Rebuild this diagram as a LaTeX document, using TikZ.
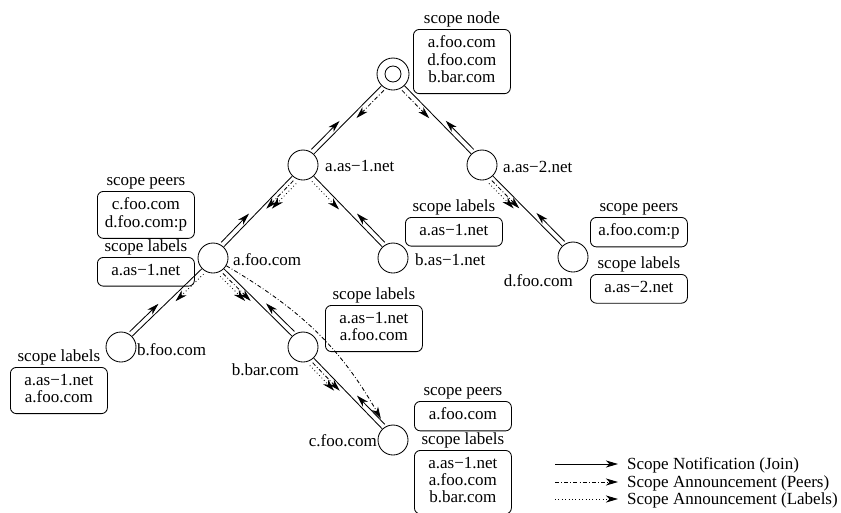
\documentclass[tikz,border=0pt]{standalone}
\usepackage{fontspec}
\setmainfont{Liberation Serif}
\usetikzlibrary{arrows.meta,calc}
\tikzset{
  every node/.style={font=\fontsize{17}{15}\selectfont},
  host/.style={circle, draw, line width=0.85pt, minimum size=30pt, inner sep=0pt},
  sbox/.style={draw, rounded corners=6pt, line width=0.85pt, minimum width=97pt,
    align=center, inner xsep=2pt, inner ysep=6.5pt, anchor=north west},
  boxtitle/.style={anchor=base, inner sep=0pt},
  hostname/.style={inner sep=0pt},
  edgeline/.style={line width=0.85pt},
  arrowtip/.style={-{Stealth[length=12pt,width=7pt,inset=3.5pt]}},
  joinarr/.style={edgeline, arrowtip},
  peerarr/.style={edgeline, arrowtip, dash pattern=on 4pt off 2.2pt on 0.8pt off 2.2pt},
  labelarr/.style={edgeline, arrowtip, dash pattern=on 0.8pt off 2.6pt},
  legendtext/.style={anchor=base west, inner sep=0pt}
}
\newcommand\joinarrow[3]{\draw[joinarr] ($(#1)!17pt!(#2)!5pt!#3:(#2)$) -- ($(#1)!57pt!(#2)!5pt!#3:(#2)$);}
\newcommand\announce[6]{\draw[#4] ($(#1)!18pt!(#2)!#5!#3:(#2)$) -- ($(#1)!#6!(#2)!#5!#3:(#2)$);}
\begin{document}
\begin{tikzpicture}[x=1pt,y=1pt]
\useasboundingbox (0,0) rectangle (841,-512);
% hosts
\node[host, minimum size=32pt] (root) at (393,-74) {};
\draw[edgeline] (root.center) circle[radius=8pt];
\node[host] (aas1) at (303,-165) {};
\node[host] (aas2) at (482,-165) {};
\node[host] (afoo) at (213,-258) {};
\node[host] (bas1) at (393,-258) {};
\node[host] (dfoo) at (573,-257) {};
\node[host] (bfoo) at (121,-347) {};
\node[host] (bbar) at (303,-347) {};
\node[host] (cfoo) at (393,-440) {};
% host names
\node[hostname, anchor=base west] (naas1) at (325,-171) {a.as−1.net};
\node[hostname, anchor=base west] (naas2) at (503,-172) {a.as−2.net};
\node[hostname, anchor=base west] (nafoo) at (233,-265) {a.foo.com};
\node[hostname, anchor=base west] (nbas1) at (415,-265) {b.as−1.net};
\node[hostname, anchor=base east] (ndfoo) at (573,-286) {d.foo.com};
\node[hostname, anchor=base west] (nbfoo) at (137,-355) {b.foo.com};
\node[hostname, anchor=base east] (nbbar) at (299,-375) {b.bar.com};
\node[hostname, anchor=base east] (ncfoo) at (377,-446) {c.foo.com};
% boxes
\node[sbox] (b1) at (413,-29) {\strut a.foo.com\\\strut d.foo.com\\\strut b.bar.com};
\node[boxtitle] (t1) at ([yshift=5.5pt]b1.north) {scope node};
\node[sbox] (b2) at (97,-191) {\strut c.foo.com\\\strut d.foo.com:p};
\node[boxtitle] (t2) at ([yshift=5.5pt]b2.north) {scope peers};
\node[sbox] (b3) at (97,-257) {\strut a.as−1.net};
\node[boxtitle] (t3) at ([yshift=5.5pt]b3.north) {scope labels};
\node[sbox] (b4) at (405,-217) {\strut a.as−1.net};
\node[boxtitle] (t4) at ([yshift=5.5pt]b4.north) {scope labels};
\node[sbox] (b5) at (590,-217) {\strut a.foo.com:p};
\node[boxtitle] (t5) at ([yshift=5.5pt]b5.north) {scope peers};
\node[sbox] (b6) at (590,-274) {\strut a.as−2.net};
\node[boxtitle] (t6) at ([yshift=5.5pt]b6.north) {scope labels};
\node[sbox] (b7) at (325,-305) {\strut a.as−1.net\\\strut a.foo.com};
\node[boxtitle] (t7) at ([yshift=5.5pt]b7.north) {scope labels};
\node[sbox] (b8) at (10,-367) {\strut a.as−1.net\\\strut a.foo.com};
\node[boxtitle] (t8) at ([yshift=5.5pt]b8.north) {scope labels};
\node[sbox] (b9) at (414,-401) {\strut a.foo.com};
\node[boxtitle] (t9) at ([yshift=5.5pt]b9.north) {scope peers};
\node[sbox] (b10) at (414,-450) {\strut a.as−1.net\\\strut a.foo.com\\\strut b.bar.com};
\node[boxtitle] (t10) at ([yshift=5.5pt]b10.north) {scope labels};
% tree edges
\draw[edgeline] (root) -- (aas1);
\draw[edgeline] (root) -- (aas2);
\draw[edgeline] (aas1) -- (afoo);
\draw[edgeline] (aas1) -- (bas1);
\draw[edgeline] (aas2) -- (dfoo);
\draw[edgeline] (afoo) -- (bfoo);
\draw[edgeline] (afoo) -- (bbar);
\draw[edgeline] (bbar) -- (cfoo);
% join notifications
\joinarrow{aas1}{root}{90}
\joinarrow{aas2}{root}{-90}
\joinarrow{afoo}{aas1}{90}
\joinarrow{bas1}{aas1}{-90}
\joinarrow{dfoo}{aas2}{-90}
\joinarrow{bfoo}{afoo}{90}
\joinarrow{bbar}{afoo}{-90}
\joinarrow{cfoo}{bbar}{-90}
% announcements
\announce{root}{aas1}{90}{peerarr}{5pt}{57pt}
\announce{root}{aas2}{-90}{peerarr}{5pt}{57pt}
\announce{aas1}{afoo}{90}{peerarr}{4pt}{57pt}
\announce{aas1}{afoo}{90}{labelarr}{8pt}{53pt}
\announce{aas1}{bas1}{-90}{labelarr}{5pt}{57pt}
\announce{aas2}{dfoo}{-90}{peerarr}{4pt}{57pt}
\announce{aas2}{dfoo}{-90}{labelarr}{8pt}{53pt}
\announce{afoo}{bfoo}{90}{labelarr}{5pt}{57pt}
\announce{afoo}{bbar}{-90}{peerarr}{4pt}{57pt}
\announce{afoo}{bbar}{-90}{labelarr}{8pt}{53pt}
\announce{bbar}{cfoo}{-90}{peerarr}{4pt}{57pt}
\announce{bbar}{cfoo}{-90}{labelarr}{8pt}{53pt}
\draw[peerarr, shorten >=9pt] (afoo) to[bend left=15] (cfoo);
% legend
\coordinate (l1a) at (555,-464); \coordinate (l1b) at (618,-464);
\coordinate (l2a) at (555,-482); \coordinate (l2b) at (618,-482);
\coordinate (l3a) at (555,-499); \coordinate (l3b) at (618,-499);
\draw[joinarr] (l1a) -- (l1b);
\draw[peerarr] (l2a) -- (l2b);
\draw[labelarr] (l3a) -- (l3b);
\node[legendtext] (lt1) at (627,-469) {Scope Notification (Join)};
\node[legendtext] (lt2) at (627,-487) {Scope Announcement (Peers)};
\node[legendtext] (lt3) at (627,-504) {Scope Announcement (Labels)};
\end{tikzpicture}
\end{document}
